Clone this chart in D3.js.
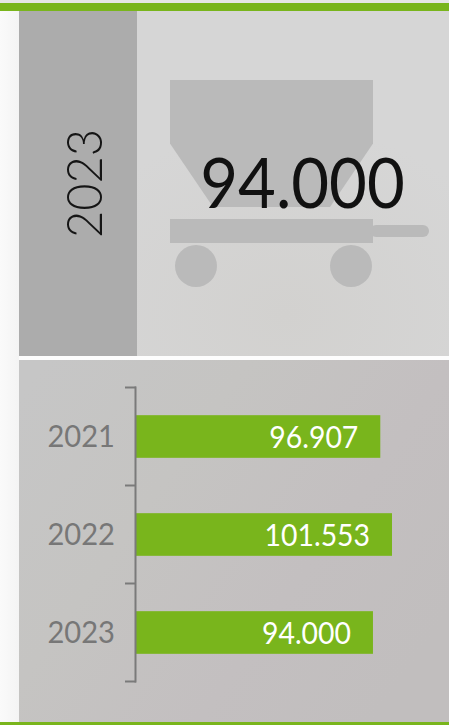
<!DOCTYPE html>
<html><head><meta charset="utf-8">
<script src="https://cdnjs.cloudflare.com/ajax/libs/d3/7.8.5/d3.min.js"></script>
<style>html,body{margin:0;padding:0;background:#fff;overflow:hidden}svg{display:block}text{font-family:Lato,sans-serif}</style>
</head><body><svg id="c" width="449" height="725"></svg>
<script>
const categories = ["2021","2022","2023"];
const values = [96907,101553,94000];
const valueLabels = ["96.907","101.553","94.000"];
const headlineYear = "2023";
const headlineValue = "94.000";

const svg = d3.select("#c");
const defs = svg.append("defs");
const rg = defs.append("radialGradient").attr("id","gLight").attr("cx","62%").attr("cy","88%").attr("r","55%");
rg.append("stop").attr("offset","0%").attr("stop-color","#d2d1cf");
rg.append("stop").attr("offset","100%").attr("stop-color","#d6d6d6");
const gl2 = defs.append("linearGradient").attr("id","gLow").attr("x1","0%").attr("y1","10%").attr("x2","100%").attr("y2","70%");
[["0%","#c6c6c6"],["35%","#c5c4c2"],["70%","#c3bfc0"],["100%","#c1bebe"]].forEach(s=>gl2.append("stop").attr("offset",s[0]).attr("stop-color",s[1]));
const gl = defs.append("linearGradient").attr("id","gLeft").attr("x1","0%").attr("x2","100%");
gl.append("stop").attr("offset","0%").attr("stop-color","#fafafa");
gl.append("stop").attr("offset","100%").attr("stop-color","#f4f4f4");

svg.append("rect").attr("x",0).attr("y",0).attr("width",19).attr("height",725).attr("fill","url(#gLeft)");
svg.append("rect").attr("x",19).attr("y",0).attr("width",430).attr("height",725).attr("fill","#f6f6f6");
svg.append("rect").attr("x",0).attr("y",0).attr("width",449).attr("height",3).attr("fill","#e6e6e6");
svg.append("rect").attr("x",19).attr("y",11).attr("width",430).attr("height",345).attr("fill","url(#gLight)");
svg.append("rect").attr("x",19).attr("y",11).attr("width",118).attr("height",345).attr("fill","#acacac");
svg.append("rect").attr("x",19).attr("y",356).attr("width",430).attr("height",4).attr("fill","#fdfdfd");
svg.append("rect").attr("x",19).attr("y",360).attr("width",430).attr("height",362).attr("fill","url(#gLow)");
svg.append("rect").attr("x",0).attr("y",3).attr("width",449).attr("height",8).attr("fill","#79b51c");
svg.append("rect").attr("x",0).attr("y",722).attr("width",449).attr("height",3).attr("fill","#79b51c");

// cart pictogram
const cart = svg.append("g").attr("fill","#bababa");
cart.append("path").attr("d","M170 80H373V143.5L330 207H213L170 143.5Z");
cart.append("rect").attr("x",170).attr("y",219).attr("width",203).attr("height",24);
cart.append("rect").attr("x",370).attr("y",225).attr("width",59).attr("height",12).attr("rx",6);
cart.append("circle").attr("cx",196).attr("cy",266).attr("r",21);
cart.append("circle").attr("cx",351).attr("cy",266).attr("r",21);

// condense a label to the narrower width of the reference face
function squeeze(sel, k){
  sel.each(function(){
    this.setAttribute("textLength", this.getComputedTextLength()*k);
    this.setAttribute("lengthAdjust","spacingAndGlyphs");
  });
}

svg.append("text").attr("transform","translate(102,183.5) rotate(-90)").attr("text-anchor","middle")
  .attr("font-size",50).attr("font-weight",300).attr("fill","#151515").text(headlineYear).call(squeeze,0.94);
svg.append("text").attr("x",302.5).attr("y",208).attr("text-anchor","middle")
  .attr("font-size",69).attr("fill","#111").text(headlineValue).call(squeeze,0.945);

// bar chart
const x = d3.scaleLinear().domain([0,d3.max(values)]).range([136,392]);
const y = d3.scaleBand().domain(categories).range([387.5,681.5]).paddingInner(0.565).paddingOuter(0.2825);
const step = y.step();

const rows = categories.map((c,i)=>({c,v:values[i],l:valueLabels[i]}));
svg.append("g").selectAll("rect").data(rows).join("rect")
  .attr("x",x(0)).attr("y",d=>y(d.c)).attr("width",d=>x(d.v)-x(0)).attr("height",y.bandwidth()).attr("fill","#79b51c");
svg.append("g").selectAll("text").data(rows).join("text")
  .attr("x",d=>x(d.v)-22).attr("y",d=>y(d.c)+y.bandwidth()/2+11).attr("text-anchor","end")
  .attr("font-size",31).attr("fill","#fff").text(d=>d.l).call(squeeze,0.915);

const boundaries = d3.range(categories.length+1).map(i=>387.5+i*step);
const ax = svg.append("g").attr("stroke","#7a7a7a").attr("stroke-width",2).attr("fill","none");
ax.append("line").attr("x1",135.5).attr("x2",135.5).attr("y1",boundaries[0]-1).attr("y2",boundaries[3]+1);
ax.selectAll("line.t").data(boundaries).join("line").attr("class","t")
  .attr("x1",125).attr("x2",136).attr("y1",d=>d).attr("y2",d=>d);
svg.append("g").selectAll("text").data(categories).join("text")
  .attr("x",115).attr("y",d=>y(d)+y.bandwidth()/2+10.5).attr("text-anchor","end")
  .attr("font-size",30).attr("fill","#777").text(d=>d).call(squeeze,0.97);
</script></body></html>
